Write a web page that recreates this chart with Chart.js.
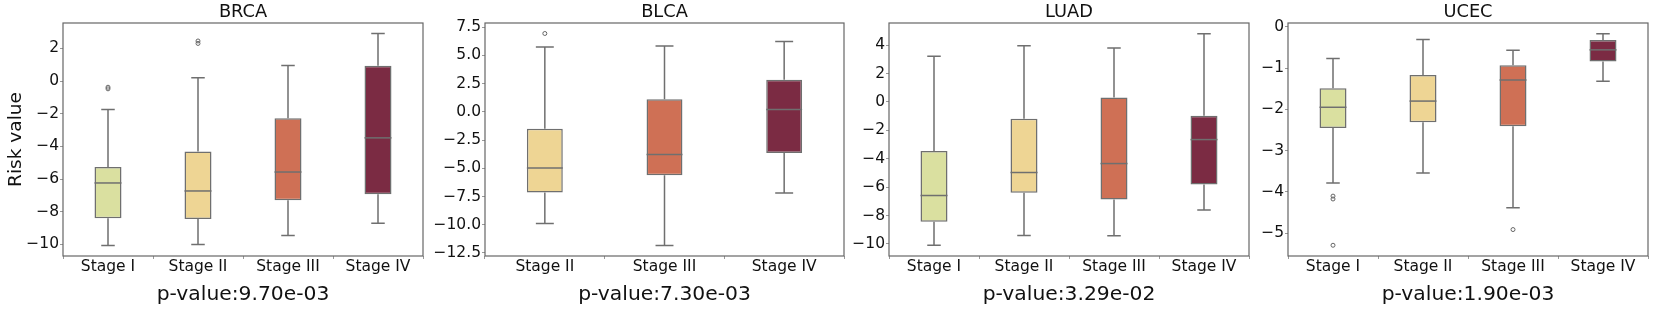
<!DOCTYPE html>
<html><head><meta charset="utf-8">
<script src="https://cdn.jsdelivr.net/npm/chart.js@4.4.1/dist/chart.umd.min.js"></script>
<style>
html,body{margin:0;padding:0;background:#fff;width:1661px;height:310px;overflow:hidden}
canvas{position:absolute;top:0}
</style></head><body>
<canvas id="c0" width="430" height="310" style="left:0px;width:430px;height:310px"></canvas>
<canvas id="c1" width="420" height="310" style="left:430px;width:420px;height:310px"></canvas>
<canvas id="c2" width="405" height="310" style="left:850px;width:405px;height:310px"></canvas>
<canvas id="c3" width="406" height="310" style="left:1255px;width:406px;height:310px"></canvas>
<script>
// ---------- data ----------
const panelNames = ['BRCA', 'BLCA', 'LUAD', 'UCEC'];
const pValues = [9.70e-3, 7.30e-3, 3.29e-2, 1.90e-3];

const brcaStages = ['Stage I', 'Stage II', 'Stage III', 'Stage IV'];
const brcaLow = [-10.06, -10.0, -9.45, -8.70];
const brcaQ1 = [-8.40, -8.44, -7.30, -6.93];
const brcaMed = [-6.24, -6.73, -5.57, -3.48];
const brcaQ3 = [-5.27, -4.31, -2.28, 0.93];
const brcaHigh = [-1.75, 0.20, 0.95, 2.90];
const brcaOutStage = ['Stage I', 'Stage I', 'Stage II', 'Stage II'];
const brcaOutVal = [-0.38, -0.48, 2.30, 2.45];
const brcaTicks = [-10, -8, -6, -4, -2, 0, 2];

const blcaStages = ['Stage II', 'Stage III', 'Stage IV'];
const blcaLow = [-9.89, -11.83, -7.18];
const blcaQ1 = [-7.15, -5.62, -3.65];
const blcaMed = [-4.98, -3.77, 0.20];
const blcaQ3 = [-1.50, 1.11, 2.85];
const blcaHigh = [5.74, 5.83, 6.23];
const blcaOutStage = ['Stage II'];
const blcaOutVal = [6.94];
const blcaTicks = [-12.5, -10.0, -7.5, -5.0, -2.5, 0.0, 2.5, 5.0, 7.5];

const luadStages = ['Stage I', 'Stage II', 'Stage III', 'Stage IV'];
const luadLow = [-10.10, -9.40, -9.42, -7.61];
const luadQ1 = [-8.44, -6.40, -6.87, -5.81];
const luadMed = [-6.59, -4.97, -4.34, -2.65];
const luadQ3 = [-3.45, -1.18, 0.32, -0.97];
const luadHigh = [3.22, 3.95, 3.80, 4.81];
const luadOutStage = [];
const luadOutVal = [];
const luadTicks = [-10, -8, -6, -4, -2, 0, 2, 4];

const ucecStages = ['Stage I', 'Stage II', 'Stage III', 'Stage IV'];
const ucecLow = [-3.78, -3.54, -4.38, -1.32];
const ucecQ1 = [-2.45, -2.31, -2.41, -0.84];
const ucecMed = [-1.95, -1.80, -1.29, -0.56];
const ucecQ3 = [-1.49, -1.17, -0.93, -0.32];
const ucecHigh = [-0.77, -0.31, -0.57, -0.17];
const ucecOutStage = ['Stage I', 'Stage I', 'Stage I', 'Stage III'];
const ucecOutVal = [-4.10, -4.17, -5.29, -4.91];
const ucecTicks = [-5, -4, -3, -2, -1, 0];

const stageColors = {
  'Stage I': '#dae0a0',
  'Stage II': '#eed594',
  'Stage III': '#cf7055',
  'Stage IV': '#7b2b43'
};

// ---------- layout / style (not data) ----------
const FONT = "'DejaVu Sans', sans-serif";
const LINE = '#6f6f6f';
const layouts = [
  {yMin: -10.71, yMax: 3.55, yWidth: 63, padRight: 7, decimals: 0, ylabel: 'Risk value'},
  {yMin: -12.77, yMax: 7.87, yWidth: 55, padRight: 6, decimals: 1, ylabel: null},
  {yMin: -10.85, yMax: 5.56, yWidth: 39, padRight: 6, decimals: 0, ylabel: null},
  {yMin: -5.55, yMax: 0.09, yWidth: 33, padRight: 13, decimals: 0, ylabel: null}
];

const panels = [
  {stages: brcaStages, low: brcaLow, q1: brcaQ1, med: brcaMed, q3: brcaQ3, high: brcaHigh, outS: brcaOutStage, outV: brcaOutVal, ticks: brcaTicks},
  {stages: blcaStages, low: blcaLow, q1: blcaQ1, med: blcaMed, q3: blcaQ3, high: blcaHigh, outS: blcaOutStage, outV: blcaOutVal, ticks: blcaTicks},
  {stages: luadStages, low: luadLow, q1: luadQ1, med: luadMed, q3: luadQ3, high: luadHigh, outS: luadOutStage, outV: luadOutVal, ticks: luadTicks},
  {stages: ucecStages, low: ucecLow, q1: ucecQ1, med: ucecMed, q3: ucecQ3, high: ucecHigh, outS: ucecOutStage, outV: ucecOutVal, ticks: ucecTicks}
];

function fmtP(p) {
  const parts = p.toExponential(2).split('e');
  const sign = parts[1][0] === '-' ? '-' : '+';
  const digits = parts[1].replace(/[+-]/, '').padStart(2, '0');
  return 'p-value:' + parts[0] + 'e' + sign + digits;
}

const boxParts = {
  id: 'boxParts',
  beforeDatasetsDraw(chart) {
    const p = chart.options.plugins.boxParts.panel;
    const meta = chart.getDatasetMeta(0);
    const ys = chart.scales.y;
    const ctx = chart.ctx;
    ctx.save();
    ctx.strokeStyle = LINE;
    ctx.lineWidth = 1.5;
    meta.data.forEach((bar, i) => {
      const x = bar.x, cap = bar.width / 4;
      const yl = ys.getPixelForValue(p.low[i]);
      const y1 = ys.getPixelForValue(p.q1[i]);
      const y3 = ys.getPixelForValue(p.q3[i]);
      const yh = ys.getPixelForValue(p.high[i]);
      ctx.beginPath();
      ctx.moveTo(x, y1); ctx.lineTo(x, yl);
      ctx.moveTo(x - cap, yl); ctx.lineTo(x + cap, yl);
      ctx.moveTo(x, y3); ctx.lineTo(x, yh);
      ctx.moveTo(x - cap, yh); ctx.lineTo(x + cap, yh);
      ctx.stroke();
    });
    ctx.restore();
  },
  afterDatasetDraw(chart, args) {
    if (args.index !== 0) return;
    const p = chart.options.plugins.boxParts.panel;
    const meta = chart.getDatasetMeta(0);
    const ys = chart.scales.y;
    const ctx = chart.ctx;
    ctx.save();
    ctx.strokeStyle = LINE;
    ctx.lineWidth = 1.5;
    meta.data.forEach((bar, i) => {
      const hw = bar.width / 2;
      const ym = ys.getPixelForValue(p.med[i]);
      ctx.beginPath();
      ctx.moveTo(bar.x - hw, ym); ctx.lineTo(bar.x + hw, ym);
      ctx.stroke();
    });
    ctx.restore();
  },
  afterDraw(chart) {
    const a = chart.chartArea, ctx = chart.ctx;
    ctx.save();
    ctx.strokeStyle = '#666';
    ctx.lineWidth = 1.2;
    ctx.strokeRect(a.left, a.top, a.right - a.left, a.bottom - a.top);
    ctx.restore();
  }
};

panels.forEach((p, k) => {
  const L = layouts[k];
  const ctx = document.getElementById('c' + k);
  new Chart(ctx, {
    type: 'bar',
    data: {
      labels: p.stages,
      datasets: [
        {
          data: p.q1.map((v, i) => [v, p.q3[i]]),
          backgroundColor: p.stages.map(s => stageColors[s]),
          borderColor: LINE,
          borderWidth: 1.5,
          borderSkipped: false,
          barPercentage: 0.3,
          categoryPercentage: 1.0
        },
        {
          type: 'scatter',
          data: p.outV.map((v, i) => ({x: p.outS[i], y: v})),
          pointRadius: 2,
          pointStyle: 'circle',
          borderColor: '#666',
          backgroundColor: 'rgba(255,255,255,0)',
          borderWidth: 1
        }
      ]
    },
    options: {
      responsive: false,
      devicePixelRatio: 1,
      animation: false,
      layout: {padding: {left: 0, right: L.padRight, top: 0, bottom: 0}},
      plugins: {
        legend: {display: false},
        tooltip: {enabled: false},
        title: {
          display: true,
          text: panelNames[k],
          fullSize: false,
          color: '#111',
          font: {family: FONT, size: 17.8, weight: 'normal', lineHeight: 1.2},
          padding: {top: 1.4, bottom: 0.24}
        },
        boxParts: {panel: p}
      },
      scales: {
        x: {
          type: 'category',
          offset: true,
          grid: {display: true, drawOnChartArea: false, drawTicks: true, tickLength: 3, tickColor: '#999'},
          border: {display: false},
          ticks: {color: '#111', padding: 0.5, font: {family: FONT, size: 15.5, lineHeight: 1}, maxRotation: 0},
          title: {
            display: true,
            text: fmtP(pValues[k]),
            color: '#111',
            font: {family: FONT, size: 20.3, lineHeight: 1.2},
            padding: {top: 0, bottom: 3.1}
          },
          afterFit(s) { s.height = 54; }
        },
        y: {
          type: 'linear',
          min: L.yMin,
          max: L.yMax,
          grid: {display: true, drawOnChartArea: false, drawTicks: true, tickLength: 3, tickColor: '#999'},
          border: {display: false},
          afterBuildTicks(s) { s.ticks = p.ticks.map(v => ({value: v})); },
          ticks: {
            color: '#111',
            padding: 1,
            font: {family: FONT, size: 15.5},
            callback: (v) => Number(v).toFixed(L.decimals).replace('-', '\u2212')
          },
          title: {
            display: !!L.ylabel,
            text: L.ylabel || '',
            color: '#111',
            font: {family: FONT, size: 18.5, lineHeight: 1.2},
            padding: {top: 4.8, bottom: 0}
          },
          afterFit(s) { s.width = L.yWidth; }
        }
      }
    },
    plugins: [boxParts]
  });
});
</script>
</body></html>
